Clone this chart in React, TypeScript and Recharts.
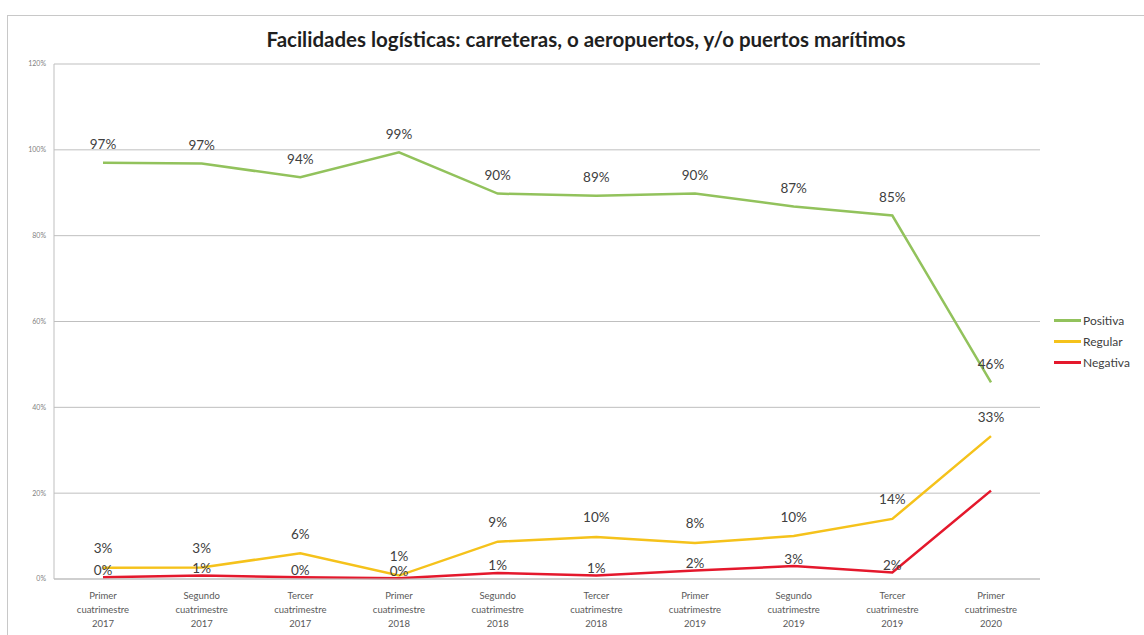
import { LineChart, Line, XAxis, YAxis, CartesianGrid, Legend } from 'recharts';

const periods = ['Primer', 'Segundo', 'Tercer', 'Primer', 'Segundo', 'Tercer', 'Primer', 'Segundo', 'Tercer', 'Primer'];
const years = ['2017', '2017', '2017', '2018', '2018', '2018', '2019', '2019', '2019', '2020'];
const positiva = [97, 96.8, 93.6, 99.4, 89.8, 89.3, 89.8, 86.8, 84.7, 45.8];
const regular = [2.6, 2.7, 6, 0.8, 8.7, 9.8, 8.4, 10, 14, 33.3];
const negativa = [0.4, 0.8, 0.4, 0.2, 1.4, 0.8, 2, 3, 1.5, 20.6];
const yTicks = [0, 20, 40, 60, 80, 100, 120];

const series = [
  { key: 'positiva', name: 'Positiva', color: '#92c25c', offset: 17 },
  { key: 'regular', name: 'Regular', color: '#f5c21b', offset: 18 },
  { key: 'negativa', name: 'Negativa', color: '#e4182c', offset: 6 },
];

const data = periods.map((p, i) => ({
  name: `${p} cuatrimestre ${years[i]}`,
  positiva: positiva[i],
  regular: regular[i],
  negativa: negativa[i],
}));

const FONT = 'Lato, "Noto Sans", sans-serif';

function XTick({ x, y, payload }: any) {
  const i = payload.index;
  return (
    <text x={x} y={y} textAnchor="middle" fill="#595959" fontSize={9.5} fontFamily={FONT}>
      <tspan x={x} dy={12}>{periods[i]}</tspan>
      <tspan x={x} dy={14}>cuatrimestre</tspan>
      <tspan x={x} dy={14}>{years[i]}</tspan>
    </text>
  );
}

function makeLabel(offset: number, skipLast: boolean) {
  return (props: any) => {
    const { x, y, value, index } = props;
    if (skipLast && index === data.length - 1) return null;
    return (
      <text x={x} y={y - offset} textAnchor="middle" dominantBaseline="middle" fill="#404040" fontSize={13.5} fontFamily={FONT}>
        {Math.round(value)}%
      </text>
    );
  };
}

function LegendContent() {
  return (
    <div style={{ fontFamily: FONT, fontSize: 12, color: '#404040' }}>
      {series.map((s) => (
        <div key={s.key} style={{ display: 'flex', alignItems: 'center', height: 21 }}>
          <div style={{ width: 27, height: 2.5, background: s.color, marginRight: 2 }} />
          <span>{s.name}</span>
        </div>
      ))}
    </div>
  );
}

export default function App() {
  return (
    <div style={{ position: 'absolute', left: 0, top: 0, width: 1144, height: 635, overflow: 'hidden', background: '#fff' }}>
      <div style={{ position: 'absolute', left: 7, top: 15, width: 1170, height: 660, border: '1px solid #c8c8c8' }} />
      <div
        style={{
          position: 'absolute',
          left: 0,
          top: 27,
          width: 1172,
          textAlign: 'center',
          fontFamily: FONT,
          fontWeight: 700,
          fontSize: 20.5,
          color: '#1f1f1f',
        }}
      >
        Facilidades logísticas: carreteras, o aeropuertos, y/o puertos marítimos
      </div>
      <LineChart width={1144} height={635} data={data} margin={{ top: 64, right: 104, bottom: 6, left: 0 }}>
        <CartesianGrid vertical={false} stroke="#bfbfbf" />
        <XAxis
          dataKey="name"
          interval={0}
          height={50}
          padding={{ left: 49, right: 49 }}
          tick={<XTick />}
          tickLine={false}
          axisLine={{ stroke: '#bfbfbf' }}
        />
        <YAxis
          width={54}
          domain={[0, 120]}
          ticks={yTicks}
          tickFormatter={(v) => `${v}%`}
          tick={{ fill: '#7f7f7f', fontSize: 7, fontFamily: FONT }}
          tickLine={false}
          axisLine={{ stroke: '#bfbfbf' }}
        />
        <Legend
          layout="vertical"
          align="center"
          verticalAlign="middle"
          content={<LegendContent />}
          wrapperStyle={{ position: 'absolute', left: 1054, top: 310, width: 90 }}
        />
        {series.map((s) => (
          <Line
            key={s.key}
            type="linear"
            dataKey={s.key}
            name={s.name}
            stroke={s.color}
            strokeWidth={2.5}
            dot={false}
            activeDot={false}
            label={makeLabel(s.offset, s.key === 'negativa')}
            isAnimationActive={false}
          />
        ))}
      </LineChart>
    </div>
  );
}
